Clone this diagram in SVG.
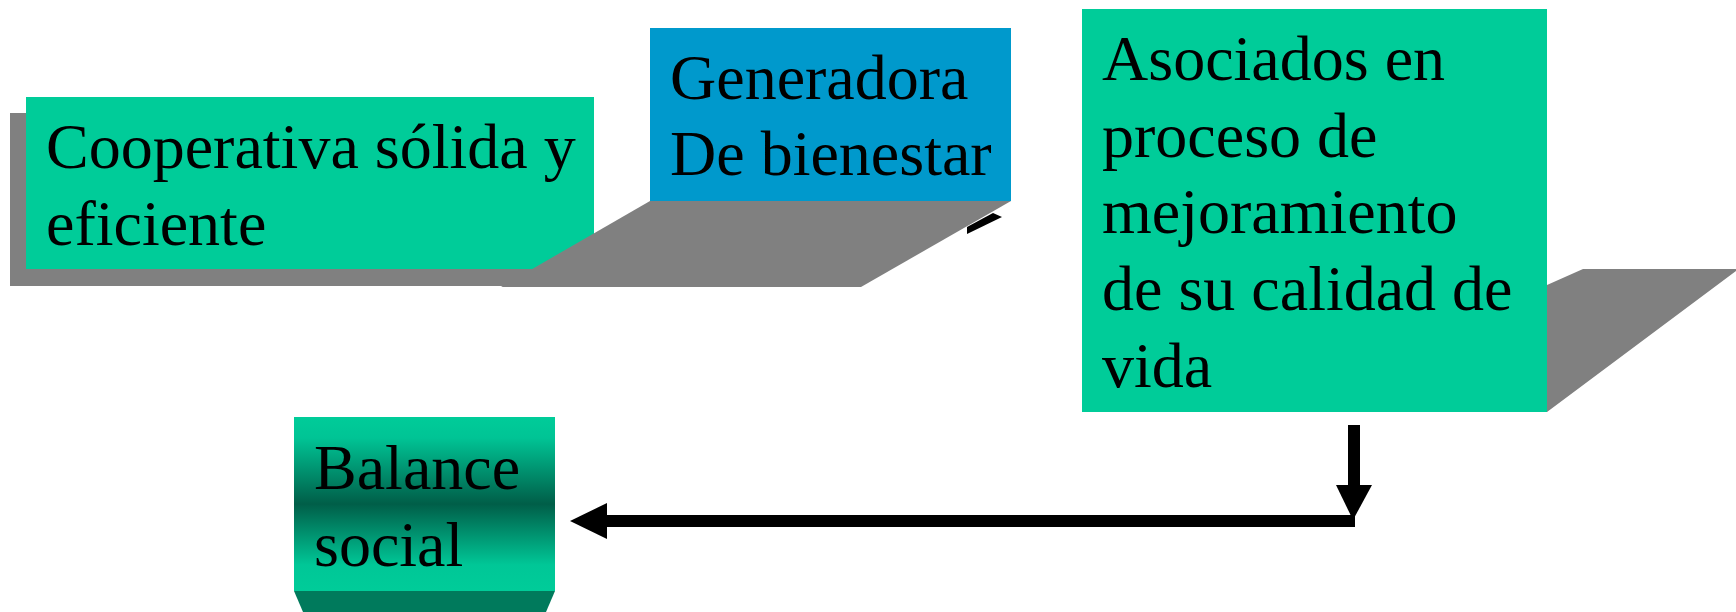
<svg xmlns="http://www.w3.org/2000/svg" width="1736" height="612" viewBox="0 0 1736 612">
<style>
.sh{fill:#808080}
.gr{fill:#00CC99}
.bl{fill:#0099CC}
.t{font-family:"Liberation Serif","Times New Roman",serif;font-size:64px;fill:#000}
.ln{stroke:#000;stroke-width:12;fill:none}
.hd{fill:#000}
</style>
<defs>
<linearGradient id="bal" x1="0" y1="0" x2="0" y2="1">
<stop offset="0" stop-color="#00CC99"/>
<stop offset="0.12" stop-color="#00C495"/>
<stop offset="0.5" stop-color="#005E48"/>
<stop offset="0.85" stop-color="#00C797"/>
<stop offset="1" stop-color="#00CC99"/>
</linearGradient>
</defs>
<g id="node-cooperativa">
<rect class="sh" x="10" y="113" width="568" height="173"/>
<rect class="gr" x="26" y="97" width="568" height="172"/>
<text class="t" x="46" y="168">Cooperativa sólida y</text>
<text class="t" x="46" y="245">eficiente</text>
</g>
<g id="node-generadora">
<polygon class="hd" points="967,227 993,213 1002,217 967,234"/>
<polygon class="sh" points="650,201 1011,201 861,287 501,287"/>
<rect class="bl" x="650" y="28" width="361" height="173"/>
<text class="t" x="670" y="99">Generadora</text>
<text class="t" x="670" y="175">De bienestar</text>
</g>
<g id="node-asociados">
<polygon class="sh" points="1547,285 1583,269 1740,269 1740,268 1547,412"/>
<rect class="gr" x="1082" y="9" width="465" height="403"/>
<text class="t" x="1102" y="80">Asociados en</text>
<text class="t" x="1102" y="157">proceso de</text>
<text class="t" x="1102" y="233">mejoramiento</text>
<text class="t" x="1102" y="310">de su calidad de</text>
<text class="t" x="1102" y="387">vida</text>
</g>
<g id="node-balance">
<rect x="294" y="417" width="261" height="174" fill="url(#bal)"/>
<polygon points="294,591 555,591 546,612 303,612" fill="#007A5C"/>
<text class="t" x="314" y="489">Balance</text>
<text class="t" x="314" y="566">social</text>
</g>
<g id="connectors">
<line class="ln" x1="1354" y1="425" x2="1354" y2="490"/>
<polygon class="hd" points="1336,485 1372,485 1353,520"/>
<line class="ln" x1="1355" y1="521" x2="604" y2="521"/>
<polygon class="hd" points="570,521 607,503 607,539"/>
</g>
</svg>
